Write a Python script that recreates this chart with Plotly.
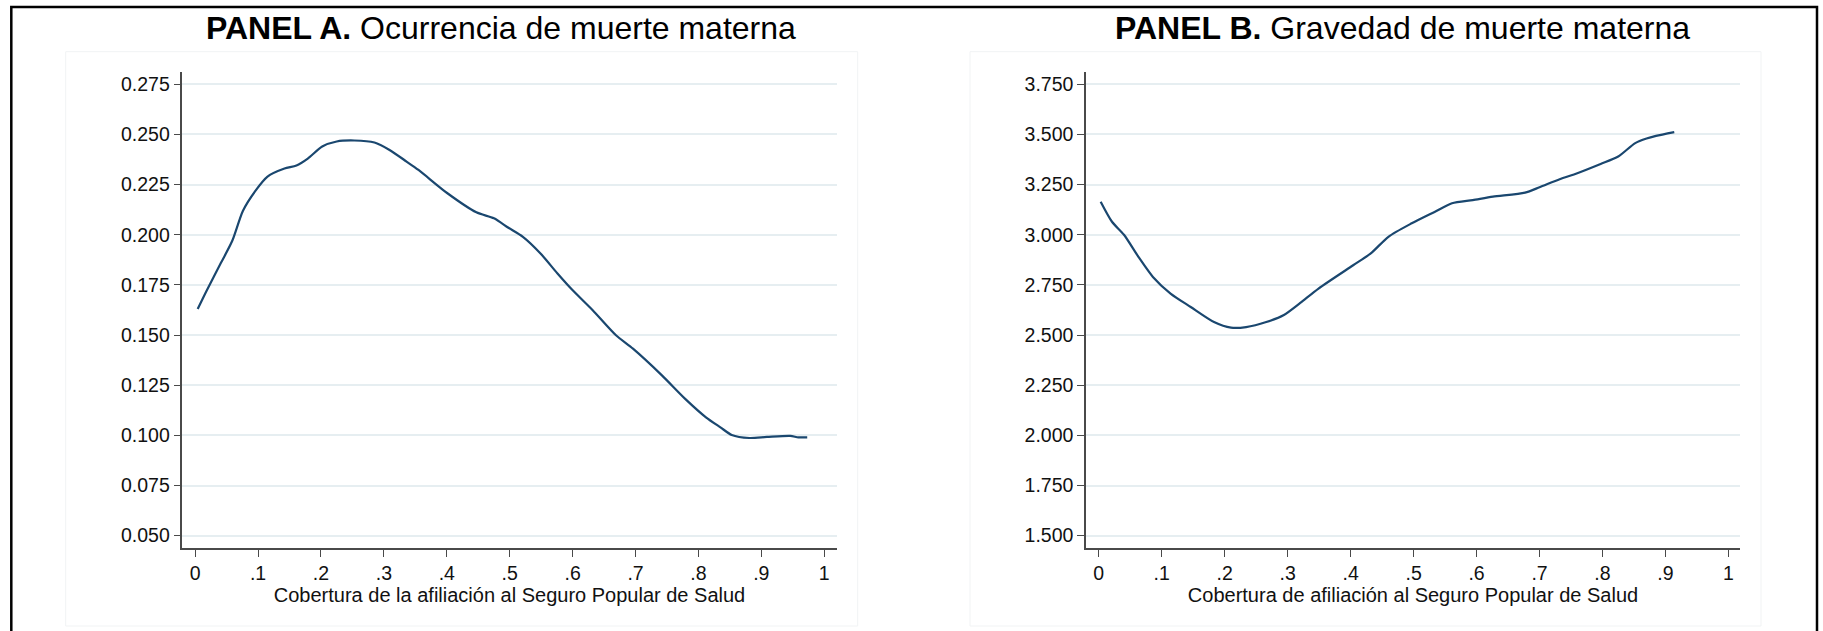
import plotly.graph_objects as go

W, H = 1823, 631

# ---------------- data ----------------
cov_a = [0.004, 0.018, 0.041, 0.059, 0.076, 0.096, 0.115, 0.142, 0.161, 0.179,
         0.202, 0.225, 0.253, 0.285, 0.309, 0.336, 0.355, 0.401, 0.447, 0.475,
         0.498, 0.521, 0.549, 0.576, 0.599, 0.632, 0.669, 0.696, 0.742, 0.779,
         0.812, 0.835, 0.853, 0.881, 0.909, 0.946, 0.959, 0.973]
occ_a = [0.163, 0.172, 0.186, 0.197, 0.212, 0.222, 0.229, 0.233, 0.2345, 0.238,
         0.244, 0.2465, 0.247, 0.246, 0.2423, 0.2365, 0.2323, 0.2207, 0.2112, 0.2082,
         0.2035, 0.199, 0.1907, 0.1807, 0.1727, 0.1624, 0.1499, 0.1432, 0.1299, 0.1182,
         0.109, 0.104, 0.1002, 0.0987, 0.0992, 0.0997, 0.099, 0.099]

cov_b = [0.003, 0.021, 0.040, 0.063, 0.086, 0.114, 0.146, 0.183, 0.210, 0.234,
         0.266, 0.294, 0.320, 0.349, 0.404, 0.432, 0.460, 0.497, 0.534, 0.561,
         0.594, 0.626, 0.677, 0.700, 0.732, 0.760, 0.797, 0.825, 0.852, 0.870,
         0.885, 0.914]
grav_b = [3.165, 3.065, 3.000, 2.890, 2.790, 2.707, 2.640, 2.565, 2.537, 2.540,
          2.565, 2.600, 2.660, 2.732, 2.848, 2.907, 2.990, 3.057, 3.115, 3.157,
          3.173, 3.190, 3.210, 3.237, 3.277, 3.307, 3.353, 3.390, 3.457, 3.480,
          3.493, 3.512]

x_tickvals = [0, 0.1, 0.2, 0.3, 0.4, 0.5, 0.6, 0.7, 0.8, 0.9, 1]
x_ticktext = ["0", ".1", ".2", ".3", ".4", ".5", ".6", ".7", ".8", ".9", "1"]
ya_tickvals = [0.050, 0.075, 0.100, 0.125, 0.150, 0.175, 0.200, 0.225, 0.250, 0.275]
yb_tickvals = [1.50, 1.75, 2.00, 2.25, 2.50, 2.75, 3.00, 3.25, 3.50, 3.75]

title_a = "<b>PANEL A.</b> Ocurrencia de muerte materna"
title_b = "<b>PANEL B.</b> Gravedad de muerte materna"
xtitle_a = "Cobertura de la afiliación al Seguro Popular de Salud"
xtitle_b = "Cobertura de afiliación al Seguro Popular de Salud"

# ---------------- style ----------------
FONT = "Arial, 'Liberation Sans', Helvetica, sans-serif"
LINE_COLOR = "#1a476f"
GRID = "#e6eef1"
AXIS = "#4a4a4a"

def px_x(p):
    return p / W

def px_y(p):
    return 1 - p / H

fig = go.Figure()
fig.add_trace(go.Scatter(x=cov_a, y=occ_a, mode="lines",
                         line=dict(color=LINE_COLOR, width=2.2, shape="spline", smoothing=0.7),
                         xaxis="x", yaxis="y", showlegend=False))
fig.add_trace(go.Scatter(x=cov_b, y=grav_b, mode="lines",
                         line=dict(color=LINE_COLOR, width=2.2, shape="spline", smoothing=0.7),
                         xaxis="x2", yaxis="y2", showlegend=False))

common_x = dict(showline=True, linecolor=AXIS, linewidth=1.5, ticks="outside",
                ticklen=7, tickwidth=1.2, tickcolor=AXIS, showgrid=False,
                zeroline=False, tickvals=x_tickvals, ticktext=x_ticktext,
                tickfont=dict(size=19.5, color="#111111", family=FONT),
                title_font=dict(size=20, color="#111111", family=FONT),
                title_standoff=0)
common_y = dict(showline=True, linecolor=AXIS, linewidth=1.5, ticks="outside",
                ticklen=7, tickwidth=1.2, tickcolor=AXIS, showgrid=True,
                gridcolor=GRID, gridwidth=2, zeroline=False,
                tickfont=dict(size=19.5, color="#111111", family=FONT))

fig.update_layout(
    width=W, height=H,
    margin=dict(l=0, r=0, t=0, b=0),
    paper_bgcolor="white", plot_bgcolor="white",
    font=dict(family=FONT, color="#111111"),
    xaxis=dict(domain=[px_x(182.4), px_x(836.6)], range=[-0.0203, 1.0197],
               anchor="y", title_text=xtitle_a, **common_x),
    yaxis=dict(domain=[px_y(548.3), px_y(72.3)], range=[0.0437, 0.281],
               anchor="x", tickvals=ya_tickvals, tickformat=".3f", **common_y),
    xaxis2=dict(domain=[px_x(1086), px_x(1740)], range=[-0.0203, 1.0184],
                anchor="y2", title_text=xtitle_b, **common_x),
    yaxis2=dict(domain=[px_y(548.3), px_y(72.3)], range=[1.437, 3.81],
                anchor="x2", tickvals=yb_tickvals, tickformat=".3f", **common_y),
    shapes=[
        dict(type="rect", xref="paper", yref="paper",
             x0=px_x(11.3), x1=px_x(1817), y0=-0.02, y1=px_y(7),
             line=dict(color="black", width=2.5)),
        dict(type="rect", xref="paper", yref="paper",
             x0=px_x(65.7), x1=px_x(857.7), y0=px_y(626), y1=px_y(51.7),
             line=dict(color="#f1f3f4", width=1), layer="below"),
        dict(type="rect", xref="paper", yref="paper",
             x0=px_x(970), x1=px_x(1761), y0=px_y(626), y1=px_y(51.7),
             line=dict(color="#f1f3f4", width=1), layer="below"),
    ],
    annotations=[
        dict(text=title_a, xref="paper", yref="paper", x=px_x(501.3), y=px_y(28),
             xanchor="center", yanchor="middle", showarrow=False,
             font=dict(size=32, color="black", family=FONT)),
        dict(text=title_b, xref="paper", yref="paper", x=px_x(1402.5), y=px_y(28),
             xanchor="center", yanchor="middle", showarrow=False,
             font=dict(size=32, color="black", family=FONT)),
    ],
)

fig.write_html("out.html")
